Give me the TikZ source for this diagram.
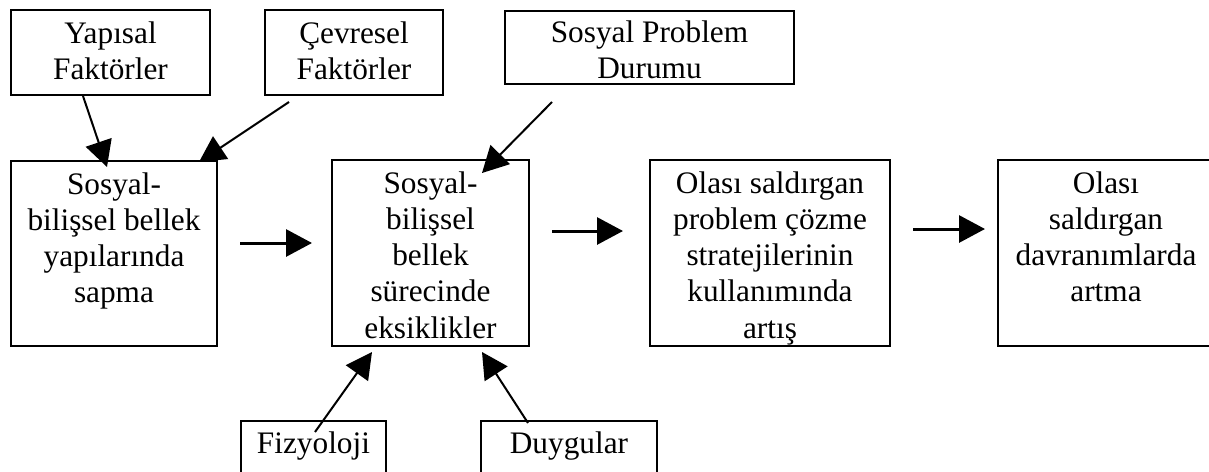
\documentclass[tikz,border=0pt]{standalone}
\usepackage{fontspec}
\setmainfont{Liberation Serif}
\usetikzlibrary{arrows.meta}
\newcommand{\bx}[4]{\parbox[c][#2][t]{#1}{\centering\rule{0pt}{#3}#4}}
\begin{document}
\begin{tikzpicture}[x=1pt,y=-1pt,
  box/.style={draw, line width=2pt, inner sep=0pt, anchor=north west,
    font=\fontsize{31.3}{36.25}\selectfont},
  arr/.style={-{Triangle[length=26pt,width=27pt]}, line width=2pt},
  harr/.style={-{Triangle[length=26pt,width=27pt]}, line width=3pt}]
\fill[white] (0,0) rectangle (1209,471);
\useasboundingbox (0,0) rectangle (1209,471);
% top boxes
\node[box] (yap) at (10,9) {\bx{199pt}{85pt}{33pt}{Yapısal\\Faktörler}};
\node[box] (cev) at (264,9) {\bx{178pt}{85pt}{33pt}{Çevresel\\Faktörler}};
\node[box] (spd) at (504,10) {\bx{289pt}{73pt}{31pt}{Sosyal Problem\\Durumu}};
% middle boxes
\node[box] (b1) at (10,160) {\bx{206pt}{185pt}{33pt}{Sosyal-\\bilişsel bellek\\yapılarında\\sapma}};
\node[box] (b2) at (331,159) {\bx{197pt}{186pt}{33pt}{Sosyal-\\bilişsel\\bellek\\sürecinde\\eksiklikler}};
\node[box] (b3) at (649,159) {\bx{240pt}{186pt}{33pt}{Olası saldırgan\\problem çözme\\stratejilerinin\\kullanımında\\artış}};
\node[box] (b4) at (997,159) {\bx{216pt}{186pt}{33pt}{Olası\\saldırgan\\davranımlarda\\artma}};
% bottom boxes
\node[box] (fiz) at (240,420) {\bx{145pt}{70pt}{32pt}{Fizyoloji}};
\node[box] (duy) at (480,420) {\bx{176pt}{70pt}{32pt}{Duygular}};
% connector end points
\coordinate (a1s) at (83,96);   \coordinate (a1e) at (107,167);
\coordinate (a2s) at (289,102); \coordinate (a2e) at (199,162);
\coordinate (a3s) at (552,102); \coordinate (a3e) at (482,173);
\coordinate (a4s) at (240,243); \coordinate (a4e) at (312,243);
\coordinate (a5s) at (552,231); \coordinate (a5e) at (623,231);
\coordinate (a6s) at (913,229); \coordinate (a6e) at (985,229);
\coordinate (a7s) at (315,432); \coordinate (a7e) at (372,352);
\coordinate (a8s) at (528,423); \coordinate (a8e) at (482,352);
% connectors
\draw[arr] (a1s) -- (a1e);
\draw[arr] (a2s) -- (a2e);
\draw[arr] (a3s) -- (a3e);
\draw[harr] (a4s) -- (a4e);
\draw[harr] (a5s) -- (a5e);
\draw[harr] (a6s) -- (a6e);
\draw[arr] (a7s) -- (a7e);
\draw[arr] (a8s) -- (a8e);
\end{tikzpicture}
\end{document}
